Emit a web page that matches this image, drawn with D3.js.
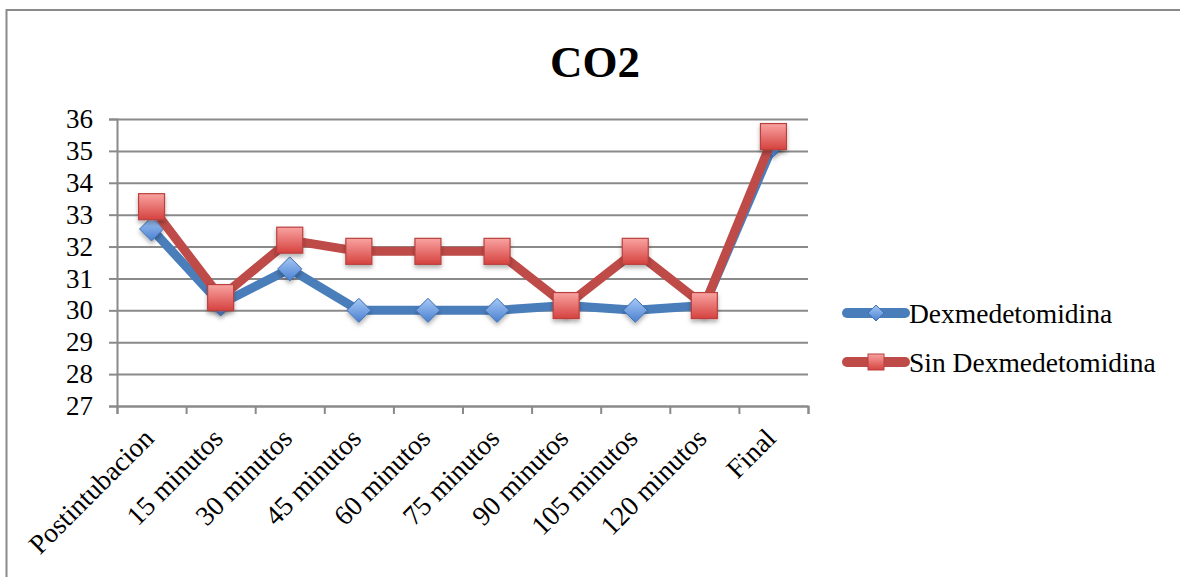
<!DOCTYPE html>
<html>
<head>
<meta charset="utf-8">
<script src="https://cdn.jsdelivr.net/npm/d3@7"></script>
<style>
  body { margin: 0; background: #fff; }
  svg { display: block; font-family: "Liberation Serif", "DejaVu Serif", serif; }
</style>
</head>
<body>
<div id="chart"></div>
<script>
// chart data
const categories = ["Postintubacion", "15 minutos", "30 minutos", "45 minutos", "60 minutos",
  "75 minutos", "90 minutos", "105 minutos", "120 minutos", "Final"]
const dexValues = [32.55, 30.2, 31.3, 30, 30, 30, 30.15, 30, 30.15, 35.2]
const sinDexValues = [33.25, 30.4, 32.2, 31.85, 31.85, 31.85, 30.15, 31.85, 30.15, 35.45]
const seriesNames = ["Dexmedetomidina", "Sin Dexmedetomidina"]
const yTicks = [27, 28, 29, 30, 31, 32, 33, 34, 35, 36]
const title = "CO2"

const width = 1180
const height = 577
const plot = { left: 117, right: 808, top: 119, bottom: 406 }
const gridColor = "#8a8a8a"
const blue = "#4a7ebb"
const red = "#be4b48"

const svg = d3.select('#chart')
  .append('svg')
  .attr('width', width)
  .attr('height', height)

const defs = svg.append('defs')

const redGrad = defs.append('linearGradient')
  .attr('id', 'redGrad').attr('x1', 0).attr('y1', 0).attr('x2', 0).attr('y2', 1)
redGrad.append('stop').attr('offset', '0%').attr('stop-color', '#f9a3a1')
redGrad.append('stop').attr('offset', '100%').attr('stop-color', '#d5423f')

const blueGrad = defs.append('linearGradient')
  .attr('id', 'blueGrad').attr('x1', 0).attr('y1', 0).attr('x2', 0).attr('y2', 1)
blueGrad.append('stop').attr('offset', '0%').attr('stop-color', '#a6c8f7')
blueGrad.append('stop').attr('offset', '100%').attr('stop-color', '#4a80cf')

defs.append('filter').attr('id', 'shadow')
  .attr('x', '-50%').attr('y', '-50%').attr('width', '200%').attr('height', '200%')
  .append('feDropShadow')
  .attr('dx', 0).attr('dy', 3).attr('stdDeviation', 2)
  .attr('flood-color', '#000').attr('flood-opacity', 0.3)

// outer frame (left and top edges visible)
svg.append('path')
  .attr('d', `M6.5,${height} L6.5,10 L${width},10`)
  .attr('fill', 'none')
  .attr('stroke', gridColor)
  .attr('stroke-width', 2)

svg.append('text')
  .attr('x', 595)
  .attr('y', 77)
  .attr('text-anchor', 'middle')
  .style('font-size', '45px')
  .style('font-weight', 'bold')
  .text(title)

const xBand = d3.scaleBand()
  .domain(categories)
  .range([plot.left, plot.right])
  .padding(0)

const xEdge = d3.scaleLinear()
  .domain([0, categories.length])
  .range([plot.left, plot.right])

const yScale = d3.scaleLinear()
  .domain([27, 36])
  .range([plot.bottom, plot.top])

// gridlines
svg.append('g')
  .attr('transform', `translate(${plot.left},0)`)
  .call(d3.axisLeft(yScale).tickValues(yTicks).tickSize(-(plot.right - plot.left)).tickFormat(''))
  .call(g => g.select('.domain').remove())
  .selectAll('line')
  .attr('stroke', gridColor)
  .attr('stroke-width', 2)

// y axis
const yAxis = svg.append('g')
  .attr('transform', `translate(${plot.left},0)`)
  .call(d3.axisLeft(yScale).tickValues(yTicks).tickSize(8).tickPadding(16).tickFormat(d3.format('d')))
  .attr('font-family', null)
  .attr('font-size', null)
yAxis.select('.domain').attr('stroke', gridColor).attr('stroke-width', 2)
yAxis.selectAll('line').attr('stroke', gridColor).attr('stroke-width', 2)
yAxis.selectAll('text')
  .style('font-size', '27px')
  .attr('fill', '#000')

// x axis
const xAxis = svg.append('g')
  .attr('transform', `translate(0,${plot.bottom})`)
  .call(d3.axisBottom(xEdge).ticks(categories.length).tickSize(8).tickFormat(''))
xAxis.select('.domain').attr('stroke', gridColor).attr('stroke-width', 2)
xAxis.selectAll('line').attr('stroke', gridColor).attr('stroke-width', 2)

svg.append('g')
  .selectAll('text')
  .data(categories)
  .enter()
  .append('text')
  .attr('text-anchor', 'end')
  .attr('transform', d => `translate(${xBand(d) + xBand.bandwidth() / 2 + 4},${plot.bottom + 34}) rotate(-45)`)
  .style('font-size', '27.5px')
  .text(d => d)

const line = d3.line()
  .x((d, i) => xBand(categories[i]) + xBand.bandwidth() / 2)
  .y(d => yScale(d))

const diamond = s => `M0,${-s} L${s},0 L0,${s} L${-s},0 Z`

// Dexmedetomidina series
svg.append('path')
  .datum(dexValues)
  .attr('d', line)
  .attr('fill', 'none')
  .attr('stroke', blue)
  .attr('stroke-width', 9)
  .attr('stroke-linejoin', 'round')

svg.append('g')
  .selectAll('path')
  .data(dexValues)
  .enter()
  .append('path')
  .attr('d', diamond(12))
  .attr('transform', (d, i) => `translate(${xBand(categories[i]) + xBand.bandwidth() / 2},${yScale(d)})`)
  .attr('fill', 'url(#blueGrad)')
  .attr('stroke', '#3f6fb0')
  .attr('stroke-width', 1)
  .attr('filter', 'url(#shadow)')

// Sin Dexmedetomidina series
svg.append('path')
  .datum(sinDexValues)
  .attr('d', line)
  .attr('fill', 'none')
  .attr('stroke', red)
  .attr('stroke-width', 9)
  .attr('stroke-linejoin', 'round')

svg.append('g')
  .selectAll('rect')
  .data(sinDexValues)
  .enter()
  .append('rect')
  .attr('x', (d, i) => xBand(categories[i]) + xBand.bandwidth() / 2 - 13)
  .attr('y', d => yScale(d) - 13)
  .attr('width', 26)
  .attr('height', 26)
  .attr('fill', 'url(#redGrad)')
  .attr('stroke', '#b8413e')
  .attr('stroke-width', 1.2)
  .attr('filter', 'url(#shadow)')

// legend
const legend = svg.append('g')
  .selectAll('g')
  .data(seriesNames)
  .enter()
  .append('g')
  .attr('transform', (d, i) => `translate(847,${313 + i * 49})`)

legend.append('line')
  .attr('x1', 0).attr('x2', 58)
  .attr('stroke', (d, i) => i === 0 ? blue : red)
  .attr('stroke-width', 10)
  .attr('stroke-linecap', 'round')

legend.each(function (d, i) {
  const g = d3.select(this)
  if (i === 0) {
    g.append('path')
      .attr('d', diamond(8))
      .attr('transform', 'translate(29,0)')
      .attr('fill', 'url(#blueGrad)')
      .attr('stroke', '#3f6fb0')
  } else {
    g.append('rect')
      .attr('x', 21).attr('y', -8).attr('width', 16).attr('height', 16)
      .attr('fill', 'url(#redGrad)')
      .attr('stroke', '#b8413e')
  }
})

legend.append('text')
  .attr('x', 62)
  .attr('dy', '0.35em')
  .style('font-size', '27.5px')
  .text(d => d)
</script>
</body>
</html>
